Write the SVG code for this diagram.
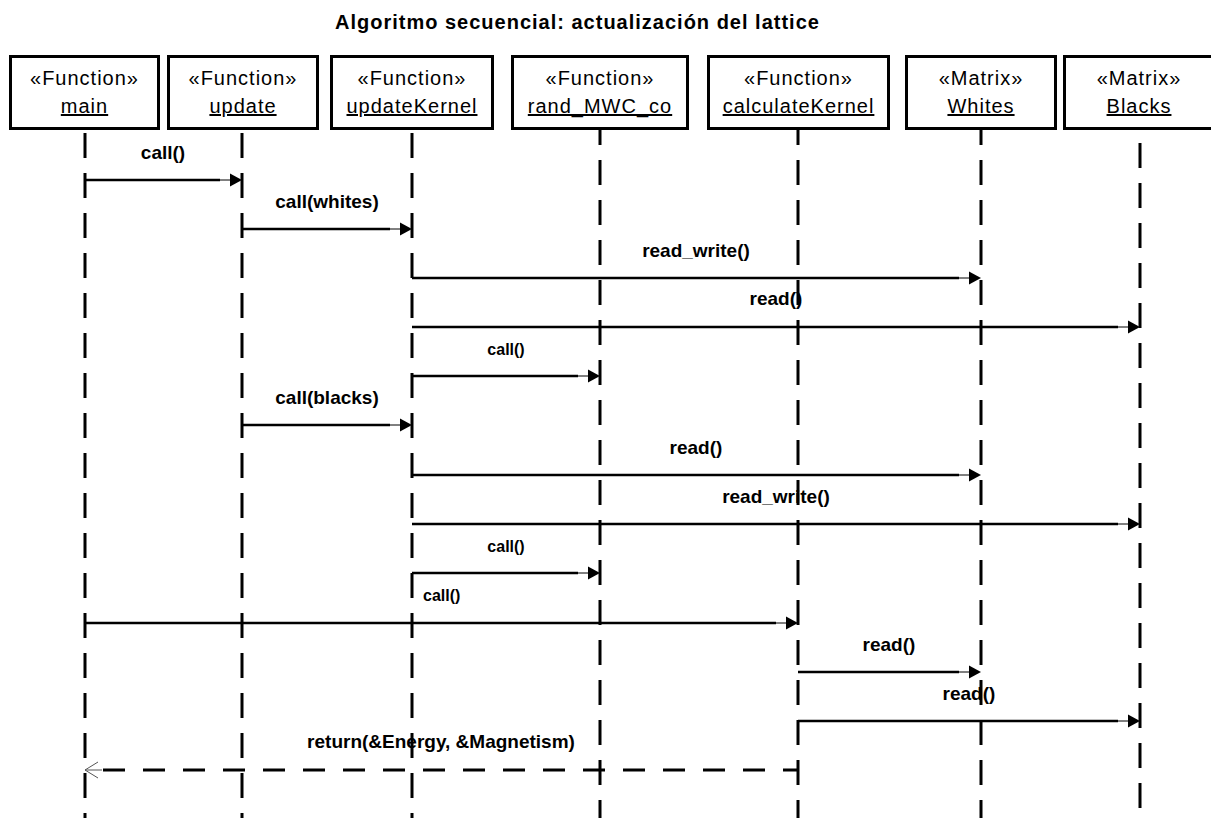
<svg xmlns="http://www.w3.org/2000/svg" width="1211" height="818" viewBox="0 0 1211 818">
  <style>
    .title { font-family: "Liberation Sans", Arial, sans-serif; font-size: 20px; font-weight: bold; letter-spacing: 1px; fill: #000; }
    .box { fill: #fff; stroke: #000; stroke-width: 3; }
    .stereo { font-family: "Liberation Sans", Arial, sans-serif; font-size: 20px; letter-spacing: 1px; fill: #000; text-anchor: middle; }
    .name { font-family: "Liberation Sans", Arial, sans-serif; font-size: 20px; letter-spacing: 1px; fill: #000; text-anchor: middle; text-decoration: underline; }
    .life { stroke: #000; stroke-width: 3; stroke-dasharray: 25 15; fill: none; }
    .msg { stroke: #000; stroke-width: 2.5; fill: none; }
    .thin { stroke: #000; stroke-width: 1; fill: none; }
    .head { fill: #000; stroke: none; }
    .ret { stroke: #000; stroke-width: 3; stroke-dasharray: 22 18; stroke-dashoffset: 7; fill: none; }
    .open { stroke: #555; stroke-width: 1; fill: none; }
    .lbl { font-family: "Liberation Sans", Arial, sans-serif; font-size: 19px; font-weight: bold; fill: #000; text-anchor: middle; }
    .lbl-s { font-family: "Liberation Sans", Arial, sans-serif; font-size: 16px; font-weight: bold; fill: #000; text-anchor: middle; }
    .lbl-s.start { text-anchor: start; }
  </style>
  <defs>
    <!-- synchronous call: thin lead-in followed by a filled head, tip at the origin -->
    <g id="callHead">
      <line class="thin" x1="-22" y1="0" x2="-12" y2="0"/>
      <polygon class="head" points="-12,-6.5 0,0 -12,6.5"/>
    </g>
  </defs>

  <text class="title" x="335" y="29">Algoritmo secuencial: actualización del lattice</text>

  <!-- lifelines -->
  <g id="lifelines">
    <line class="life" x1="85" y1="133" x2="85" y2="818"/>
    <line class="life" x1="242" y1="133" x2="242" y2="818"/>
    <line class="life" x1="412" y1="133" x2="412" y2="818"/>
    <line class="life" x1="600" y1="130" x2="600" y2="818" stroke-dashoffset="10"/>
    <line class="life" x1="798" y1="130" x2="798" y2="818" stroke-dashoffset="10"/>
    <line class="life" x1="981" y1="130" x2="981" y2="818" stroke-dashoffset="10"/>
    <line class="life" x1="1140" y1="143" x2="1140" y2="818"/>
  </g>

  <!-- participants -->
  <g id="node-main">
    <rect class="box" x="10.5" y="56.5" width="148" height="72"/>
    <text class="stereo" x="84.5" y="85">«Function»</text>
    <text class="name" x="84.5" y="113">main</text>
  </g>
  <g id="node-update">
    <rect class="box" x="168.5" y="56.5" width="149" height="72"/>
    <text class="stereo" x="243" y="85">«Function»</text>
    <text class="name" x="243" y="113">update</text>
  </g>
  <g id="node-updateKernel">
    <rect class="box" x="331.5" y="56.5" width="161" height="72"/>
    <text class="stereo" x="412" y="85">«Function»</text>
    <text class="name" x="412" y="113">updateKernel</text>
  </g>
  <g id="node-rand_MWC_co">
    <rect class="box" x="512.5" y="56.5" width="175" height="72"/>
    <text class="stereo" x="600" y="85">«Function»</text>
    <text class="name" x="600" y="113">rand_MWC_co</text>
  </g>
  <g id="node-calculateKernel">
    <rect class="box" x="708.5" y="56.5" width="180" height="72"/>
    <text class="stereo" x="798.5" y="85">«Function»</text>
    <text class="name" x="798.5" y="113">calculateKernel</text>
  </g>
  <g id="node-Whites">
    <rect class="box" x="906.5" y="56.5" width="149" height="72"/>
    <text class="stereo" x="981" y="85">«Matrix»</text>
    <text class="name" x="981" y="113">Whites</text>
  </g>
  <g id="node-Blacks">
    <rect class="box" x="1064.5" y="56.5" width="152" height="72"/>
    <text class="stereo" x="1139" y="85">«Matrix»</text>
    <text class="name" x="1139" y="113">Blacks</text>
  </g>

  <!-- messages -->
  <g id="connectors">
    <line class="msg" x1="85" y1="180" x2="220" y2="180"/>
    <use href="#callHead" x="242" y="180"/>
    <text class="lbl" x="163" y="159">call()</text>

    <line class="msg" x1="242" y1="229" x2="390" y2="229"/>
    <use href="#callHead" x="412" y="229"/>
    <text class="lbl" x="327" y="208">call(whites)</text>

    <line class="msg" x1="412" y1="278" x2="959" y2="278"/>
    <use href="#callHead" x="981" y="278"/>
    <text class="lbl" x="696" y="257">read_write()</text>

    <line class="msg" x1="412" y1="327" x2="1118" y2="327"/>
    <use href="#callHead" x="1140" y="327"/>
    <text class="lbl" x="776" y="305">read()</text>

    <line class="msg" x1="412" y1="376" x2="578" y2="376"/>
    <use href="#callHead" x="600" y="376"/>
    <text class="lbl-s" x="506" y="355">call()</text>

    <line class="msg" x1="242" y1="425" x2="390" y2="425"/>
    <use href="#callHead" x="412" y="425"/>
    <text class="lbl" x="327" y="404">call(blacks)</text>

    <line class="msg" x1="412" y1="475" x2="959" y2="475"/>
    <use href="#callHead" x="981" y="475"/>
    <text class="lbl" x="696" y="454">read()</text>

    <line class="msg" x1="412" y1="524" x2="1118" y2="524"/>
    <use href="#callHead" x="1140" y="524"/>
    <text class="lbl" x="776" y="503">read_write()</text>

    <line class="msg" x1="412" y1="573" x2="578" y2="573"/>
    <use href="#callHead" x="600" y="573"/>
    <text class="lbl-s" x="506" y="552">call()</text>

    <line class="msg" x1="85" y1="623" x2="776" y2="623"/>
    <use href="#callHead" x="798" y="623"/>
    <text class="lbl-s start" x="423" y="601">call()</text>

    <line class="msg" x1="798" y1="672" x2="959" y2="672"/>
    <use href="#callHead" x="981" y="672"/>
    <text class="lbl" x="889" y="651">read()</text>

    <line class="msg" x1="798" y1="721" x2="1118" y2="721"/>
    <use href="#callHead" x="1140" y="721"/>
    <text class="lbl" x="969" y="700">read()</text>

    <!-- return message -->
    <line class="ret" x1="798" y1="770" x2="100" y2="770"/>
    <polyline class="open" points="98,762 85,770 98,778"/>
    <line class="open" x1="85" y1="770" x2="102" y2="770"/>
    <text class="lbl" x="441" y="748">return(&amp;Energy, &amp;Magnetism)</text>
  </g>
</svg>
